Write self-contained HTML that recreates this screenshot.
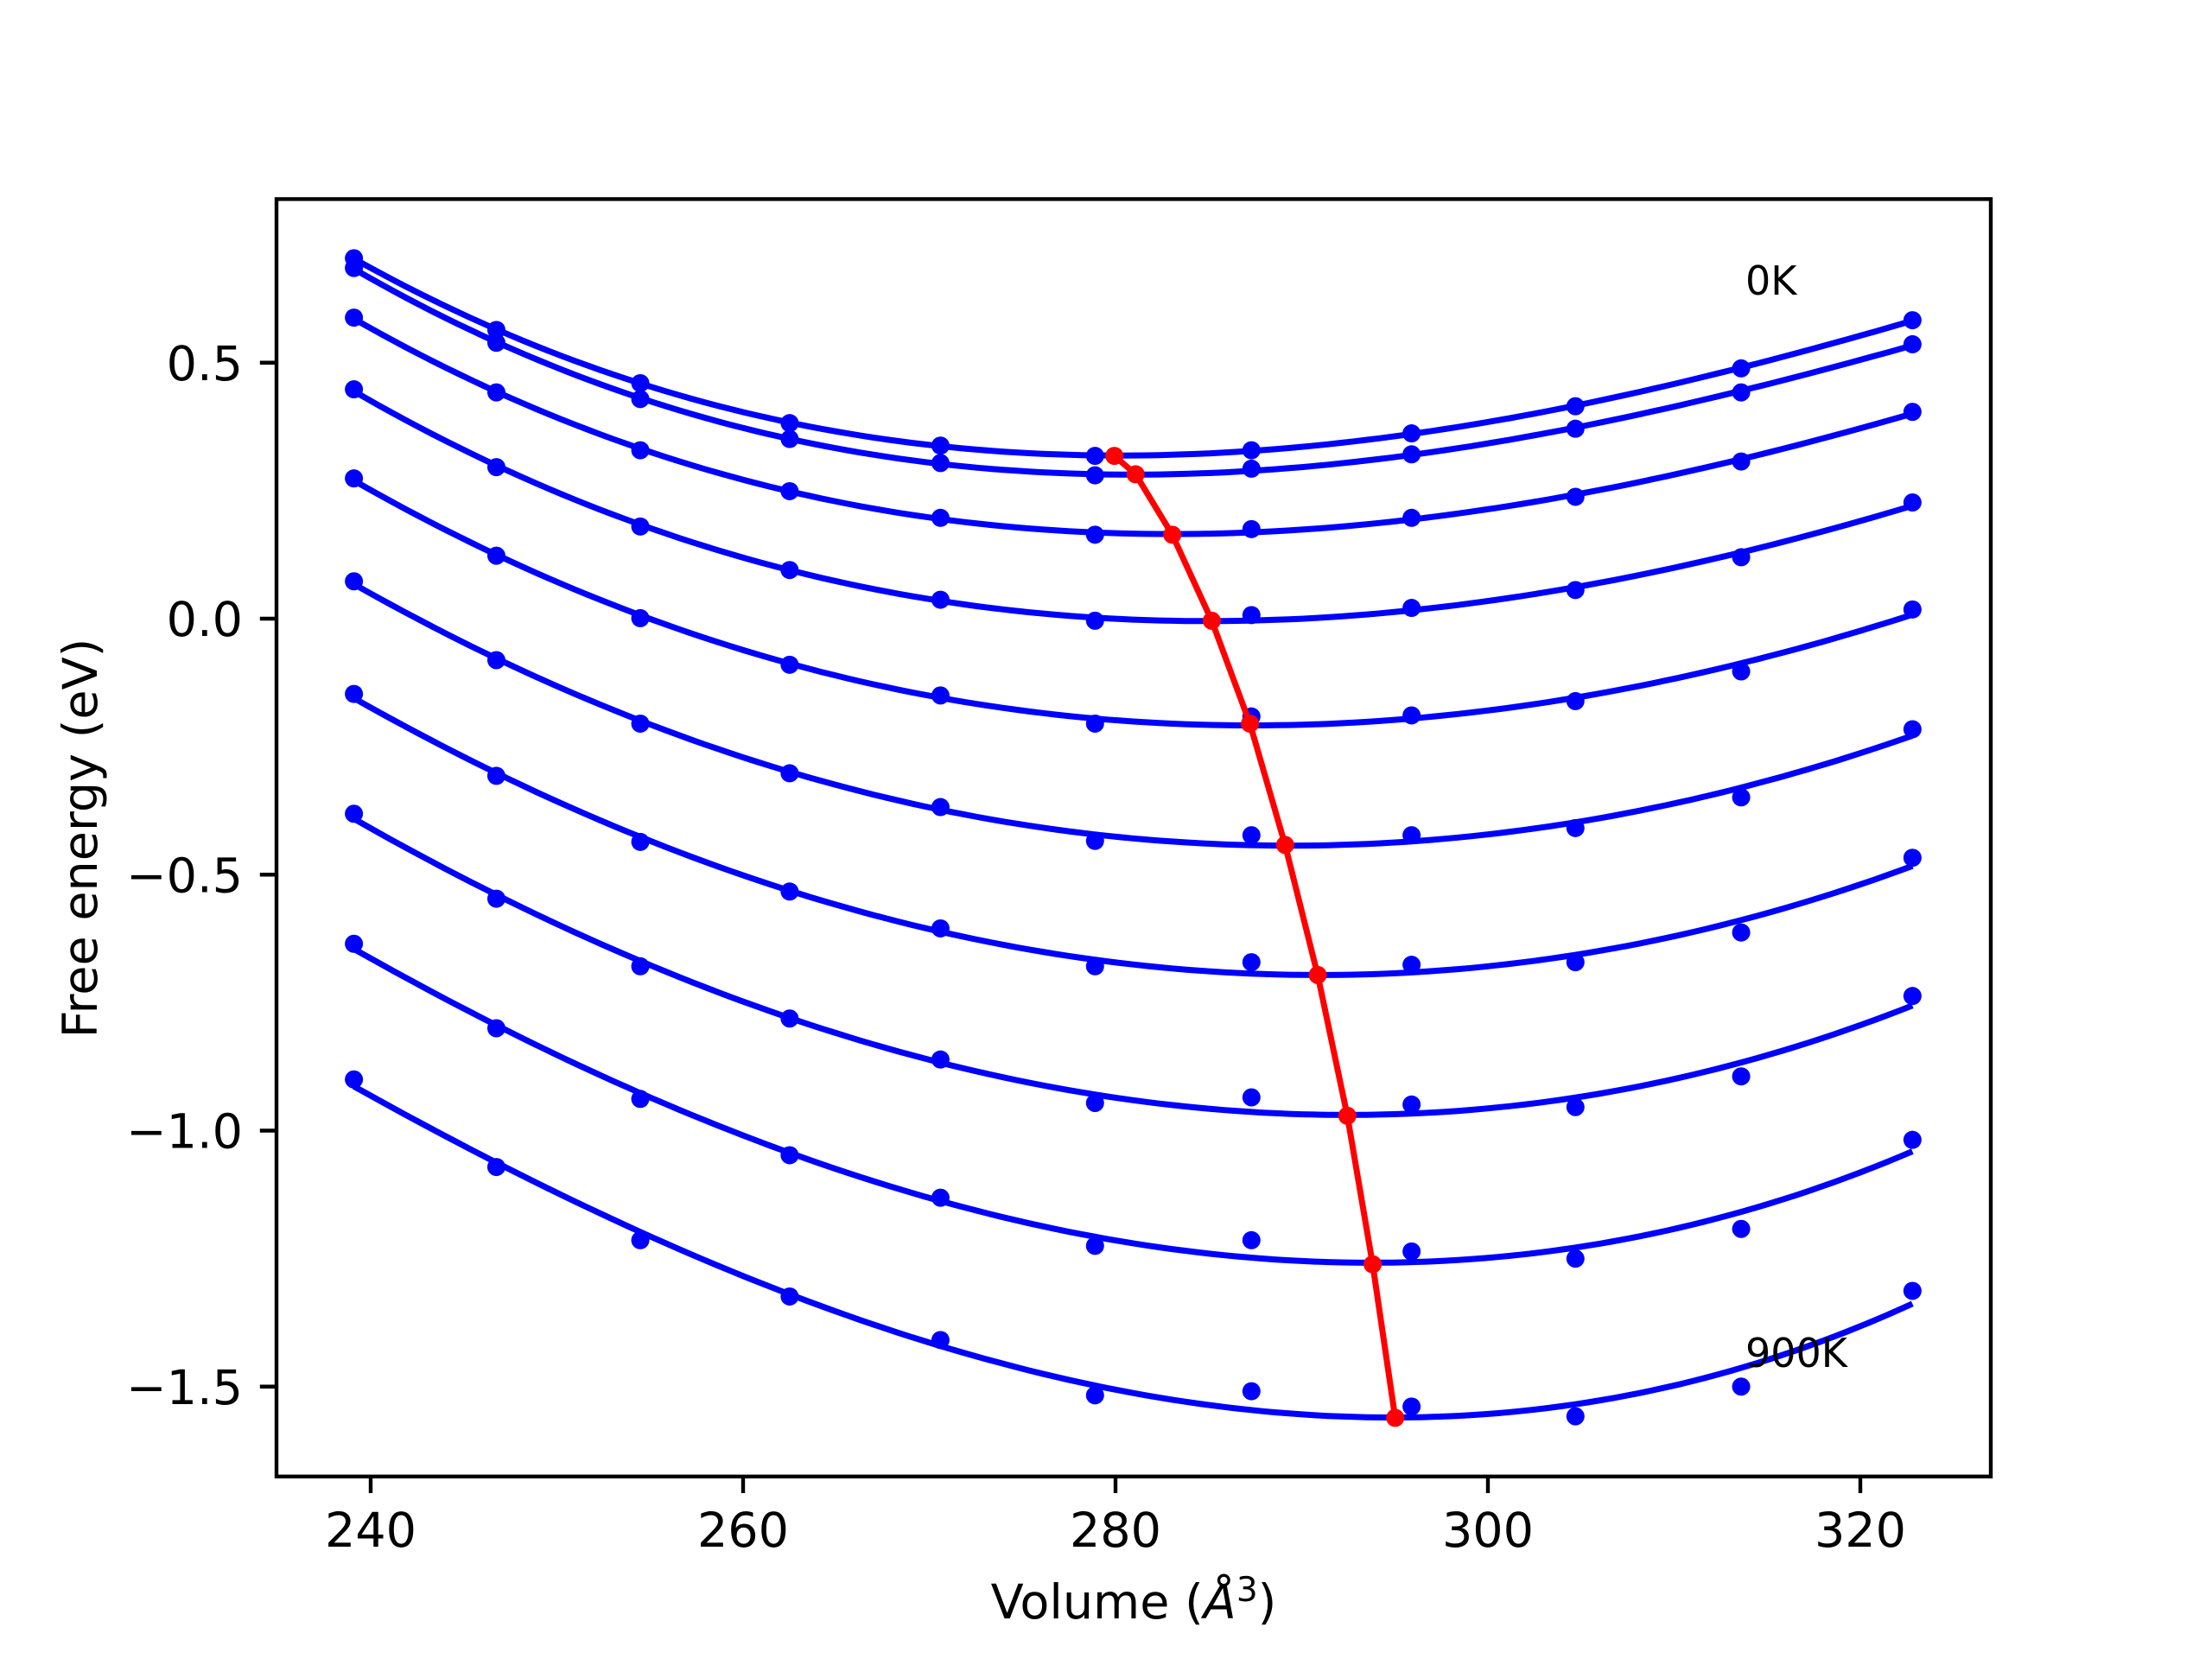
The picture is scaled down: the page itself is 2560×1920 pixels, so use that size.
<!DOCTYPE html>
<html><head><meta charset="utf-8"><style>
html,body{margin:0;padding:0;background:#fff;}
svg{display:block;font-family:"DejaVu Sans","Liberation Sans",sans-serif;}
</style></head><body>
<svg id="chart" width="2560" height="1920" viewBox="0 0 2560 1920" xmlns="http://www.w3.org/2000/svg">
<rect x="0" y="0" width="2560" height="1920" fill="#fff"/>
<g id="plot"></g>
<rect x="320" y="230.4" width="1984" height="1478.4" fill="none" stroke="#000" stroke-width="4.4"/>
<g id="xticks"></g>
<g id="yticks"></g>
<text x="1312" y="1873" font-size="55.6" text-anchor="middle">Volume (<tspan font-style="italic">Å</tspan><tspan dy="-20" font-size="39">3</tspan><tspan dy="20">)</tspan></text>
<text transform="translate(112,970) rotate(-90)" font-size="55.6" text-anchor="middle">Free energy (eV)</text>
<text x="2020" y="341" font-size="46">0K</text>
<text x="2020" y="1582" font-size="46">900K</text>
</svg>
<script>
const volumes = [239.1, 246.75, 254.48, 262.5, 270.6, 278.9, 287.3, 295.9, 304.7, 313.6, 322.8];
const temps = ["0K","100K","200K","300K","400K","500K","600K","700K","800K","900K"];
const e0K   = [0.704,0.564,0.460,0.382,0.338,0.318,0.329,0.362,0.415,0.489,0.583];
const e100K = [0.685,0.539,0.429,0.351,0.304,0.280,0.293,0.321,0.371,0.442,0.536];
const e200K = [0.588,0.442,0.329,0.249,0.197,0.164,0.175,0.197,0.238,0.307,0.404];
const e300K = [0.448,0.296,0.180,0.095,0.037,-0.004,0.007,0.021,0.056,0.120,0.227];
const e400K = [0.274,0.123,0.001,-0.090,-0.150,-0.205,-0.191,-0.189,-0.161,-0.103,0.018];
const e500K = [0.073,-0.081,-0.205,-0.302,-0.368,-0.434,-0.423,-0.423,-0.409,-0.349,-0.216];
const e600K = [-0.147,-0.307,-0.436,-0.533,-0.605,-0.679,-0.671,-0.676,-0.671,-0.613,-0.467];
const e700K = [-0.381,-0.547,-0.679,-0.781,-0.861,-0.946,-0.935,-0.949,-0.954,-0.894,-0.737];
const e800K = [-0.635,-0.800,-0.938,-1.048,-1.131,-1.225,-1.214,-1.236,-1.250,-1.192,-1.018];
const e900K = [-0.900,-1.071,-1.214,-1.324,-1.409,-1.517,-1.509,-1.539,-1.558,-1.500,-1.313];
const minVolumes = [279.94,281.08,283.05,285.17,287.22,289.11,290.86,292.45,293.81,295.02];
const minEnergies = [0.318,0.282,0.164,-0.004,-0.205,-0.442,-0.696,-0.971,-1.261,-1.561];
const xTickValues = [240,260,280,300,320];
const yTickValues = [0.5,0.0,-0.5,-1.0,-1.5];
const yTickLabels = ["0.5","0.0","\u22120.5","\u22121.0","\u22121.5"];

const series = [e0K,e100K,e200K,e300K,e400K,e500K,e600K,e700K,e800K,e900K];
const NS = "http://www.w3.org/2000/svg";
function xs(v){ return 429 + (v - 240) * 21.55; }
function ys(v){ return 716 - v * 592.5; }
function mk(tag, attrs, parent){
  const el = document.createElementNS(NS, tag);
  for (const k in attrs) el.setAttribute(k, attrs[k]);
  parent.appendChild(el);
  return el;
}
// cubic least-squares fit
function fit(xv, yv){
  const m = 240 + 40, s = 40;
  const n = 4, A = [], b = [];
  for (let i=0;i<n;i++){ A.push(new Array(n).fill(0)); b.push(0); }
  for (let k=0;k<xv.length;k++){
    const t = (xv[k]-m)/s;
    const p = [1,t,t*t,t*t*t];
    for (let i=0;i<n;i++){ b[i]+=p[i]*yv[k]; for(let j=0;j<n;j++) A[i][j]+=p[i]*p[j]; }
  }
  for (let i=0;i<n;i++){
    let piv=i; for(let r=i+1;r<n;r++) if(Math.abs(A[r][i])>Math.abs(A[piv][i])) piv=r;
    [A[i],A[piv]]=[A[piv],A[i]]; [b[i],b[piv]]=[b[piv],b[i]];
    for (let r=0;r<n;r++){ if(r===i) continue; const f=A[r][i]/A[i][i];
      for(let c=i;c<n;c++) A[r][c]-=f*A[i][c]; b[r]-=f*b[i]; }
  }
  const c = b.map((v,i)=>v/A[i][i]);
  return x => { const t=(x-m)/s; return c[0]+c[1]*t+c[2]*t*t+c[3]*t*t*t; };
}
const plot = document.getElementById('plot');
series.forEach((ser, si) => {
  const g = mk('g', {}, plot);
  
  
  const f = fit(volumes, ser);
  const x0 = volumes[0], x1 = volumes[volumes.length-1];
  let d = '';
  for (let i=0;i<=120;i++){ const x = x0 + (x1-x0)*i/120; d += (i?'L':'M') + xs(x).toFixed(1) + ',' + ys(f(x)).toFixed(1); }
  const path = mk('path', {d:d, fill:'none', stroke:'#0000ff', 'stroke-width':7}, g);
  
  
  ser.forEach((v, i) => {
    const c = mk('circle', {cx:xs(volumes[i]), cy:ys(v), r:10.5, fill:'#0000ff'}, g);
    
    
  });
});
const rg = mk('g', {}, plot);


const pts = minVolumes.map((v,i)=>xs(v).toFixed(1)+','+ys(minEnergies[i]).toFixed(1)).join(' ');
const pl = mk('polyline', {points:pts, fill:'none', stroke:'#ff0000', 'stroke-width':7}, rg);


minVolumes.forEach((v,i)=>{
  const c = mk('circle', {cx:xs(v), cy:ys(minEnergies[i]), r:10.5, fill:'#ff0000'}, rg);
  
  
});
const xg = document.getElementById('xticks');
xTickValues.forEach(v=>{
  const x = xs(v);
  const t = mk('line', {x1:x, x2:x, y1:1708.8, y2:1728, stroke:'#000', 'stroke-width':4.4}, xg);
  
  
  const l = mk('text', {x:x, y:1790, 'font-size':55.6, 'text-anchor':'middle'}, xg);
  l.textContent = String(v);
  
  
});
const yg = document.getElementById('yticks');
yTickValues.forEach((v,i)=>{
  const y = ys(v);
  const t = mk('line', {x1:300.8, x2:320, y1:y, y2:y, stroke:'#000', 'stroke-width':4.4}, yg);
  
  
  const l = mk('text', {x:281, y:y+20, 'font-size':55.6, 'text-anchor':'end'}, yg);
  l.textContent = yTickLabels[i];
  
  
});
</script>
</body></html>
